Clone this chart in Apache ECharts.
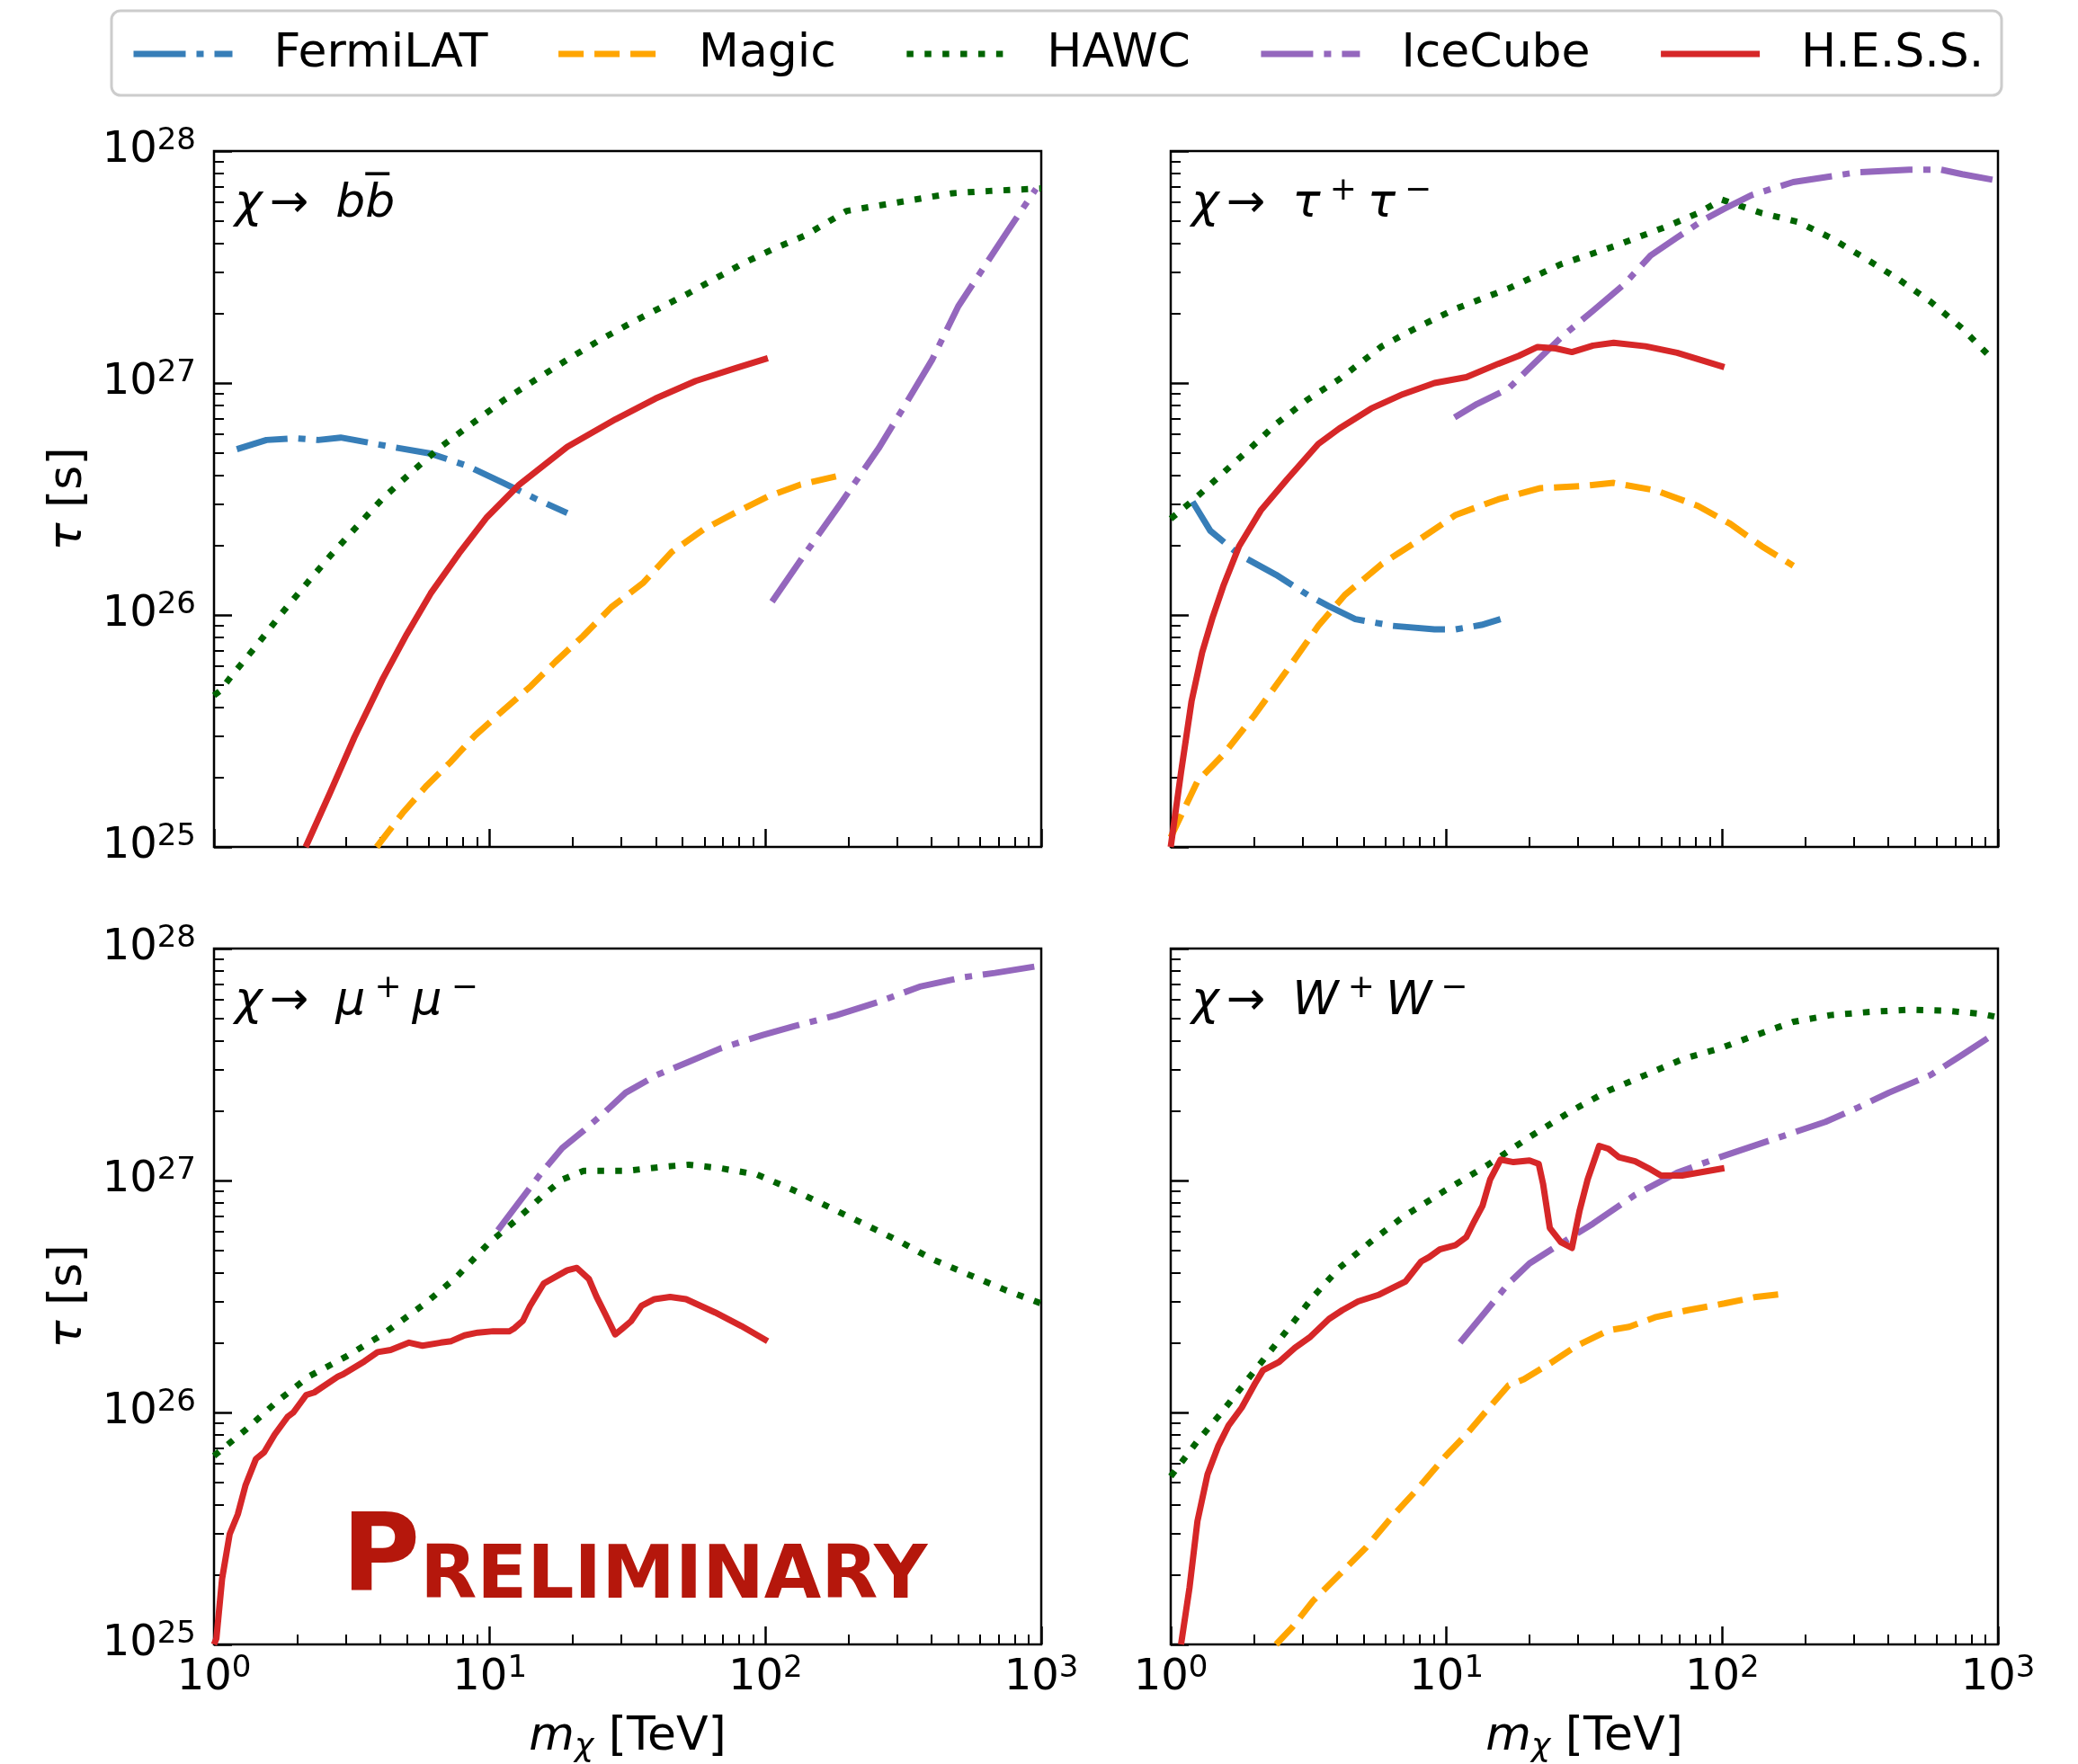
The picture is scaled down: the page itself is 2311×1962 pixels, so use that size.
<!DOCTYPE html>
<html>
<head>
<meta charset="utf-8">
<script src="https://cdn.jsdelivr.net/npm/echarts@6/dist/echarts.min.js"></script>
<style>
  html, body { margin: 0; padding: 0; background: #ffffff; }
  #chart { width: 2311px; height: 1962px; }
</style>
</head>
<body>
<div id="chart"></div>
<script>
// ---------------------------------------------------------------
// Lifetime limits tau [s] versus dark-matter mass m_chi [TeV]
// pairs are [mass in TeV, lifetime in s]
// ---------------------------------------------------------------

// chi -> b bbar
const bbFermi = [[1.21,5.18e26],[1.55,5.68e26],[1.96,5.78e26],[2.39,5.68e26],[2.88,5.82e26],[3.23,5.68e26],[4.38,5.31e26],[6.11,4.96e26],[8.26,4.4e26],[11.2,3.71e26],[14.6,3.18e26],[19.1,2.75e26]];
const bbMagic = [[3.89,1e25],[4.83,1.4e25],[5.91,1.84e25],[7.23,2.33e25],[8.84,3.02e25],[11.2,3.89e25],[14.1,4.94e25],[17.3,6.28e25],[21.8,8.11e25],[27.6,1.08e26],[36.1,1.38e26],[45.7,1.87e26],[59.7,2.34e26],[78.1,2.77e26],[102,3.24e26],[134,3.65e26],[187,4.0e26]];
const bbHawc = [[1.0,4.5e25],[1.05,4.7e25],[1.16,5.48e25],[1.42,7.33e25],[1.74,1.0e26],[2.15,1.35e26],[2.64,1.8e26],[3.29,2.4e26],[4.09,3.18e26],[5.18,4.11e26],[6.65,5.31e26],[8.55,6.63e26],[11.2,8.41e26],[14.6,1.03e27],[19.1,1.26e27],[25,1.53e27],[33.8,1.86e27],[52.7,2.44e27],[81.7,3.25e27],[107,3.79e27],[139,4.32e27],[197,5.52e27],[307,6.03e27],[477,6.58e27],[650,6.73e27],[1000,6.9e27]];
const bbIceCube = [[105.6,1.14e26],[138,1.81e26],[187,3.02e26],[257,5.22e26],[322,8.1e26],[402,1.26e27],[500,2.14e27],[622,3.18e27],[775,4.73e27],[957,6.87e27]];
const bbHess = [[2.15,1e25],[2.64,1.72e25],[3.23,2.97e25],[4.09,5.3e25],[5.0,8.26e25],[6.11,1.24e26],[7.73,1.84e26],[9.77,2.64e26],[12.8,3.65e26],[19.1,5.31e26],[28.6,6.98e26],[39.9,8.57e26],[55.8,1.02e27],[78.1,1.16e27],[102,1.28e27]];

// chi -> tau+ tau-
const ttFermi = [[1.2,3.08e26],[1.39,2.31e26],[1.77,1.82e26],[2.41,1.49e26],[3.14,1.22e26],[3.75,1.09e26],[4.67,9.6e25],[6.36,8.98e25],[9.05,8.67e25],[10.8,8.67e25],[13.4,9.06e25],[15.7,9.6e25]];
const ttMagic = [[1.0,1.1e25],[1.25,1.92e25],[1.55,2.5e25],[2.02,3.72e25],[2.64,5.78e25],[3.43,8.98e25],[4.28,1.22e26],[5.83,1.66e26],[7.58,2.03e26],[10.8,2.7e26],[15.4,3.15e26],[21.9,3.52e26],[31.1,3.6e26],[40.4,3.71e26],[57.6,3.44e26],[81.7,2.95e26],[107,2.47e26],[139,1.98e26],[181,1.63e26]];
const ttHawc = [[1.0,2.6e26],[1.19,3.08e26],[1.49,3.93e26],[1.94,5.22e26],[2.41,6.66e26],[3.14,8.49e26],[4.09,1.04e27],[5.83,1.44e27],[7.93,1.75e27],[10.8,2.09e27],[16.7,2.55e27],[26,3.25e27],[40.4,3.88e27],[62.9,4.73e27],[81.7,5.4e27],[99.7,6.17e27],[139,5.4e27],[189,4.94e27],[246,4.24e27],[336,3.4e27],[438,2.79e27],[570,2.24e27],[742,1.72e27],[923,1.32e27]];
const ttIceCube = [[10.7,7.11e26],[12.9,8.12e26],[16.8,9.47e26],[20,1.16e27],[26,1.57e27],[34,2.05e27],[44.2,2.67e27],[55,3.55e27],[68.6,4.24e27],[85.6,5.05e27],[101.8,5.64e27],[127,6.44e27],[181,7.35e27],[307,8.09e27],[477,8.31e27],[622,8.31e27],[742,7.95e27],[957,7.52e27]];
const ttHess = [[1.0,1e25],[1.09,2.1e25],[1.19,4.25e25],[1.3,6.89e25],[1.42,9.8e25],[1.55,1.33e26],[1.77,1.98e26],[2.12,2.82e26],[2.64,3.84e26],[3.43,5.46e26],[4.09,6.37e26],[5.33,7.76e26],[6.95,8.95e26],[9.05,1e27],[11.8,1.06e27],[15.4,1.21e27],[18.3,1.31e27],[21.4,1.43e27],[24.9,1.41e27],[28.5,1.36e27],[34,1.45e27],[40.4,1.49e27],[52.7,1.44e27],[68.6,1.35e27],[101.8,1.17e27]];

// chi -> mu+ mu-
const mmHawc = [[1.0,6.5e25],[1.3,8.4e25],[1.7,1.12e26],[2.21,1.43e26],[3.01,1.74e26],[4.09,2.17e26],[5.83,2.95e26],[7.58,3.84e26],[9.89,5.35e26],[12.3,6.66e26],[15.4,8.49e26],[18.3,1.01e27],[21.9,1.1e27],[31.1,1.1e27],[44.2,1.15e27],[52.7,1.17e27],[68.6,1.13e27],[93.4,1.06e27],[127,9.06e26],[173,7.6e26],[226,6.52e26],[307,5.46e26],[402,4.58e26],[545,3.93e26],[742,3.37e26],[1000,2.95e26]];
const mmIceCube = [[10.7,6.1e26],[12.9,8.19e26],[15.4,1.08e27],[18.3,1.38e27],[21.9,1.64e27],[26,1.96e27],[31.1,2.39e27],[40.4,2.85e27],[52.7,3.25e27],[68.6,3.71e27],[97.9,4.24e27],[127,4.63e27],[181,5.16e27],[257,5.89e27],[366,6.87e27],[522,7.52e27],[680,7.85e27],[957,8.38e27]];
const mmHess = [[1.0,1e25],[1.02,1.06e25],[1.07,1.92e25],[1.14,2.99e25],[1.22,3.64e25],[1.3,4.84e25],[1.42,6.31e25],[1.52,6.74e25],[1.66,8.04e25],[1.85,9.59e25],[1.94,1e26],[2.16,1.19e26],[2.31,1.22e26],[2.82,1.43e26],[2.94,1.46e26],[3.51,1.66e26],[3.92,1.82e26],[4.37,1.86e26],[5.1,2.0e26],[5.7,1.94e26],[6.64,2.0e26],[7.25,2.03e26],[8.1,2.15e26],[9.05,2.21e26],[10.3,2.24e26],[11.8,2.24e26],[12.3,2.31e26],[13.2,2.49e26],[14,2.88e26],[15.7,3.6e26],[17.5,3.87e26],[19.1,4.1e26],[20.7,4.2e26],[22.9,3.76e26],[24.4,3.15e26],[26.3,2.64e26],[28.5,2.17e26],[30.4,2.31e26],[32.5,2.47e26],[35.5,2.88e26],[39.6,3.08e26],[45.1,3.15e26],[51.5,3.08e26],[65.6,2.7e26],[81.7,2.36e26],[101.8,2.03e26]];

// chi -> W+ W-
const wwMagic = [[2.41,1e25],[2.75,1.18e25],[3.28,1.54e25],[4.09,2.0e25],[5.1,2.61e25],[6.36,3.56e25],[7.93,4.74e25],[9.89,6.46e25],[11.8,8.04e25],[14,1.02e26],[16.8,1.31e26],[19.1,1.39e26],[23.8,1.63e26],[29.7,1.94e26],[38.7,2.26e26],[46,2.34e26],[57.6,2.58e26],[75,2.76e26],[101.8,2.95e26],[133,3.15e26],[169,3.25e26]];
const wwHawc = [[1.0,5.3e25],[1.25,7.52e25],[1.55,1.02e26],[2.02,1.52e26],[2.64,2.26e26],[3.28,3.15e26],[4.09,4.2e26],[5.33,5.46e26],[6.95,6.96e26],[9.89,9.06e26],[14,1.16e27],[20,1.54e27],[28.5,2.0e27],[38.7,2.44e27],[52.7,2.85e27],[71.5,3.33e27],[97.9,3.71e27],[133,4.24e27],[181,4.83e27],[246,5.16e27],[336,5.32e27],[477,5.45e27],[650,5.4e27],[887,5.21e27],[1000,5.05e27]];
const wwIceCube = [[11.2,2.0e26],[14,2.76e26],[16.8,3.6e26],[20,4.39e26],[26,5.35e26],[34,6.52e26],[48.3,8.67e26],[68.6,1.08e27],[97.9,1.26e27],[152,1.5e27],[237,1.79e27],[307,2.05e27],[402,2.39e27],[570,2.85e27],[742,3.48e27],[957,4.24e27]];
const wwHess = [[1.09,1e25],[1.17,1.76e25],[1.25,3.4e25],[1.36,5.41e25],[1.49,7.2e25],[1.62,8.78e25],[1.81,1.05e26],[2.02,1.33e26],[2.16,1.52e26],[2.47,1.65e26],[2.82,1.9e26],[3.21,2.12e26],[3.75,2.53e26],[4.19,2.76e26],[4.78,3.01e26],[5.7,3.22e26],[6.36,3.44e26],[7.1,3.67e26],[8.1,4.48e26],[8.66,4.68e26],[9.46,5.05e26],[10.8,5.27e26],[11.8,5.7e26],[12.6,6.66e26],[13.5,7.76e26],[14.4,1.01e27],[15.7,1.23e27],[17.5,1.2e27],[20,1.22e27],[21.6,1.18e27],[22.4,9.68e26],[23.7,6.24e26],[26,5.42e26],[28.5,5.12e26],[30.4,7.43e26],[32.5,1.01e27],[35.8,1.41e27],[38.7,1.37e27],[42.2,1.26e27],[48.3,1.21e27],[54,1.13e27],[60,1.05e27],[71.5,1.05e27],[101.8,1.13e27]];

// experiments (legend order) and axis ticks
const experiments = ['FermiLAT', 'Magic', 'HAWC', 'IceCube', 'H.E.S.S.'];
const massRange = [1, 1000];
const lifetimeRange = [1e25, 1e28];
const massMinorTicks = [2,3,4,5,6,7,8,9,20,30,40,50,60,70,80,90,200,300,400,500,600,700,800,900];
const lifetimeMinorTicks = [2e25,3e25,4e25,5e25,6e25,7e25,8e25,9e25,2e26,3e26,4e26,5e26,6e26,7e26,8e26,9e26,2e27,3e27,4e27,5e27,6e27,7e27,8e27,9e27];

// one entry per panel: the curves of each decay channel
const panels = [
  { curves: { 'FermiLAT': bbFermi, 'Magic': bbMagic, 'HAWC': bbHawc, 'IceCube': bbIceCube, 'H.E.S.S.': bbHess } },
  { curves: { 'FermiLAT': ttFermi, 'Magic': ttMagic, 'HAWC': ttHawc, 'IceCube': ttIceCube, 'H.E.S.S.': ttHess } },
  { curves: { 'HAWC': mmHawc, 'IceCube': mmIceCube, 'H.E.S.S.': mmHess } },
  { curves: { 'Magic': wwMagic, 'HAWC': wwHawc, 'IceCube': wwIceCube, 'H.E.S.S.': wwHess } }
];

const LW = 7;
const lineLook = {
  'FermiLAT': { color: '#377eb8', type: [58, 12, 8, 12] },
  'Magic':    { color: '#ffa500', type: [28, 12] },
  'HAWC':     { color: '#006400', type: [7.5, 12.4] },
  'IceCube':  { color: '#9467bd', type: [58, 12, 8, 12] },
  'H.E.S.S.': { color: '#d62728', type: 'solid' }
};

const FONT = 'DejaVu Sans';
const gridBoxes = [
  { left: 238, top: 168, width: 920, height: 774 },
  { left: 1302, top: 168, width: 920, height: 774 },
  { left: 238, top: 1055, width: 920, height: 774 },
  { left: 1302, top: 1055, width: 920, height: 774 }
];

function powLabel(v) {
  const e = Math.round(Math.log10(v));
  return '{b|10}{s|' + e + '}';
}
const powRich = {
  b: { fontSize: 48, fontFamily: FONT, color: '#000', lineHeight: 56 },
  s: { fontSize: 34, fontFamily: FONT, color: '#000', lineHeight: 34, verticalAlign: 'top' }
};

const grid = gridBoxes.map(g => Object.assign({
  show: true, borderColor: '#000', borderWidth: 2.5, backgroundColor: 'transparent',
  containLabel: false, outerBoundsMode: 'none'
}, g));
const xAxis = [];
const yAxis = [];
const series = [];

panels.forEach((p, i) => {
  const bottomRow = i >= 2;
  const leftCol = i % 2 === 0;
  xAxis.push({
    type: 'log', logBase: 10, gridIndex: i, min: massRange[0], max: massRange[1], position: 'bottom',
    axisLine: { show: false },
    axisTick: { show: true, inside: true, length: 20, lineStyle: { color: '#000', width: 2.5 } },
    splitLine: { show: false },
    axisLabel: { show: bottomRow, formatter: powLabel, rich: powRich, margin: 10, showMinLabel: true, showMaxLabel: true },
    name: bottomRow ? '{i|m}{c|χ}{n| [TeV]}' : '',
    nameLocation: 'middle', nameGap: 77,
    nameTextStyle: { rich: {
      i: { fontSize: 52, fontFamily: FONT, fontStyle: 'italic', color: '#000', lineHeight: 60, verticalAlign: 'top' },
      c: { fontSize: 36, fontFamily: FONT, fontStyle: 'italic', color: '#000', lineHeight: 36, verticalAlign: 'top', padding: [20, 0, 0, 0] },
      n: { fontSize: 52, fontFamily: FONT, color: '#000', lineHeight: 60, verticalAlign: 'top' }
    } }
  });
  xAxis.push({
    type: 'log', logBase: 10, gridIndex: i, min: massRange[0], max: massRange[1], position: 'bottom',
    axisLine: { show: false }, axisLabel: { show: false }, splitLine: { show: false },
    axisTick: { show: true, inside: true, length: 11, customValues: massMinorTicks, lineStyle: { color: '#000', width: 2 } }
  });
  yAxis.push({
    type: 'log', logBase: 10, gridIndex: i, min: lifetimeRange[0], max: lifetimeRange[1], position: 'left',
    axisLine: { show: false },
    axisTick: { show: true, inside: true, length: 20, lineStyle: { color: '#000', width: 2.5 } },
    splitLine: { show: false },
    axisLabel: { show: leftCol, formatter: powLabel, rich: powRich, margin: 20, showMinLabel: true, showMaxLabel: true },
    name: leftCol ? '{i|τ}{n| [s]}' : '',
    nameLocation: 'middle', nameGap: 132, nameRotate: 90,
    nameTextStyle: { rich: {
      i: { fontSize: 52, fontFamily: FONT, fontStyle: 'italic', color: '#000', lineHeight: 60 },
      n: { fontSize: 52, fontFamily: FONT, color: '#000', lineHeight: 60 }
    } }
  });
  yAxis.push({
    type: 'log', logBase: 10, gridIndex: i, min: lifetimeRange[0], max: lifetimeRange[1], position: 'left',
    axisLine: { show: false }, axisLabel: { show: false }, splitLine: { show: false },
    axisTick: { show: true, inside: true, length: 11, customValues: lifetimeMinorTicks, lineStyle: { color: '#000', width: 2 } }
  });

  experiments.forEach(name => {
    const data = p.curves[name];
    if (!data) return;
    series.push({
      type: 'line', name: name, data: data,
      xAxisIndex: 2 * i, yAxisIndex: 2 * i,
      symbol: 'none', showSymbol: false, smooth: false, clip: true,
      color: lineLook[name].color,
      lineStyle: { color: lineLook[name].color, width: LW, type: lineLook[name].type, cap: 'butt', join: 'round' },
      emphasis: { disabled: true }
    });
  });
});

// decay-channel labels in the upper-left corner of each panel
const labelRich = {
  c: { fontSize: 52, fontFamily: FONT, fontStyle: 'italic', fill: '#000', lineHeight: 64 },
  a: { fontSize: 52, fontFamily: FONT, fill: '#000', lineHeight: 64, padding: [0, 30, 0, 8] },
  p: { fontSize: 36, fontFamily: FONT, fill: '#000', lineHeight: 40, verticalAlign: 'top', padding: [0, 12, 0, 10] }
};
const channelTexts = [
  '{c|χ}{a|→}{c|bb\u0305}',
  '{c|χ}{a|→}{c|τ}{p|+}{c|τ}{p|−}',
  '{c|χ}{a|→}{c|μ}{p|+}{c|μ}{p|−}',
  '{c|χ}{a|→}{c|W}{p|+}{c|W}{p|−}'
];
const graphic = [
  { type: 'rect', shape: { x: 124, y: 12, width: 2102, height: 94, r: 10 }, style: { fill: '#fff', stroke: '#cccccc', lineWidth: 3 }, z: -1 }
];
channelTexts.forEach((t, i) => {
  graphic.push({
    type: 'text', x: gridBoxes[i].left + 23, y: gridBoxes[i].top + 59,
    style: { text: t, rich: labelRich, align: 'left', verticalAlign: 'middle' }
  });
});
graphic.push({
  type: 'text', x: 380, y: 1797,
  style: {
    text: '{P|P}{R|RELIMINARY}', align: 'left', verticalAlign: 'bottom', fill: '#b5170c',
    rich: {
      P: { fontSize: 119, fontFamily: FONT, fontWeight: 'bold', fill: '#b5170c', lineHeight: 119, verticalAlign: 'bottom' },
      R: { fontSize: 82, fontFamily: FONT, fontWeight: 'bold', fill: '#b5170c', lineHeight: 93.5, verticalAlign: 'bottom' }
    }
  }
});

const chart = echarts.init(document.getElementById('chart'), null, { renderer: 'canvas' });
chart.setOption({
  animation: false,
  backgroundColor: '#ffffff',
  textStyle: { fontFamily: FONT },
  legend: {
    data: experiments,
    left: 145, top: 34, padding: 0,
    itemWidth: 110, itemHeight: 50, itemGap: 75,
    itemStyle: { opacity: 0 },
    lineStyle: { width: LW },
    textStyle: { fontSize: 52, fontFamily: FONT, color: '#000', padding: [0, 0, 0, 41] },
    selectedMode: false
  },
  grid: grid,
  xAxis: xAxis,
  yAxis: yAxis,
  series: series,
  graphic: graphic
});
</script>
</body>
</html>
